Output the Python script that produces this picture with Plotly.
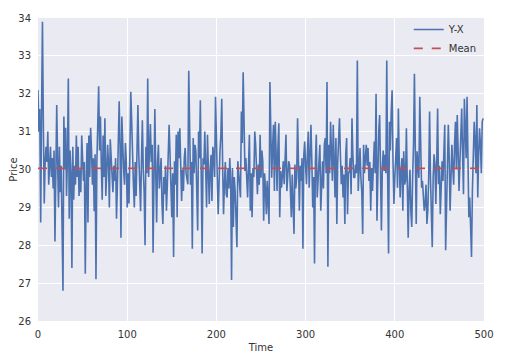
import numpy as np
import plotly.graph_objects as go

# Spread series values (Y-X), t = 0..499
seg_a = [32.1, 31.0, 31.6, 28.6, 31.5, 33.9, 31.2, 29.1, 30.2, 30.6, 30.2, 31.0, 29.6, 30.4, 30.6, 29.8,
         30.3, 29.5, 30.5, 28.1, 29.5, 31.7, 30.2, 29.0, 30.6, 29.4, 30.1, 28.2, 26.8, 31.4, 30.0, 31.1,
         29.3, 30.3, 32.4, 28.7, 30.5, 29.9, 27.4, 30.6, 29.2, 30.1, 29.6, 30.9, 29.8, 30.6, 29.3, 30.0,
         29.4, 30.9, 30.4, 29.7, 30.2, 27.25, 29.5, 30.7, 28.6, 30.9, 29.8, 31.1, 30.5, 29.6, 30.3, 28.9,
         30.4, 27.1, 30.2]
seg_b = [31.0, 32.2, 30.5, 31.4, 30.1, 29.2, 30.9, 29.8, 31.35, 29.3, 29.9, 30.65, 30.2, 29.0, 30.8, 30.3,
         30.0, 29.4, 30.1, 29.7, 30.3, 28.7, 29.6, 30.4, 31.8, 30.6, 28.2, 31.4, 30.5, 30.0, 29.6, 30.7,
         30.2, 29.0, 29.9, 29.1, 30.4, 32.05, 31.3, 30.0, 29.6, 29.0, 30.2, 29.3, 30.5, 31.7, 30.4, 29.8,
         28.9, 30.2, 31.3, 30.0, 29.4, 28.0, 30.6, 29.9, 32.4, 29.8, 30.6, 31.2, 30.2, 30.65, 27.8, 30.0,
         31.6, 29.9, 28.6]
seg_c = [30.2, 30.65, 29.5, 29.87, 30.3, 29.09, 28.56, 29.8, 29.35, 30.1, 28.91, 29.6, 30.48, 31.18, 30.4,
         29.78, 28.74, 29.9, 27.69, 30.22, 29.6, 30.92, 28.74, 31.0, 30.3, 31.09, 30.1, 29.17, 30.0, 29.43,
         30.3, 30.57, 29.9, 29.78, 29.61, 32.61, 30.65, 29.6, 30.2, 27.91, 30.83, 29.9, 30.65, 30.48, 29.4,
         28.39, 31.0, 30.3, 31.83, 29.96, 27.78, 30.3, 30.13, 31.0, 30.2, 29.0, 30.92, 30.1, 29.09, 30.0,
         30.39, 29.17, 30.6, 30.39, 29.8, 31.92]
seg_d = [30.4, 29.78, 28.82, 29.9, 30.48, 30.9, 31.87, 30.1, 28.82, 29.61, 30.2, 29.35, 29.26, 30.04, 29.5,
         30.3, 29.7, 27.08, 30.04, 28.48, 29.8, 29.43, 28.7, 27.95, 30.22, 29.78, 29.4, 29.26, 31.53, 30.7,
         32.57, 30.39, 29.96, 30.3, 29.6, 29.26, 30.1, 30.92, 28.91, 29.9, 28.74, 30.04, 29.8, 31.0, 30.65,
         29.8, 29.35, 30.13, 29.6, 30.92, 29.78, 30.5, 30.22, 28.65, 29.9, 29.52, 28.82, 29.7, 29.2, 28.56,
         32.31, 30.3, 29.78, 30.6, 31.18, 29.43, 31.26]
seg_e = [30.39, 29.43, 30.6, 31.22, 28.74, 29.96, 29.52, 30.1, 30.22, 29.61, 30.5, 30.92, 29.43, 30.0,
         30.22, 30.13, 29.6, 28.74, 29.87, 29.2, 28.3, 30.13, 29.5, 29.78, 31.35, 30.2, 28.91, 30.1, 29.7,
         30.3, 27.91, 30.39, 30.74, 30.1, 29.61, 30.4, 31.0, 29.52, 30.3, 31.18, 30.22, 29.0, 29.8, 27.52,
         30.2, 30.92, 29.26, 29.78, 30.3, 30.65, 28.91, 29.9, 30.22, 29.5, 30.65, 30.83, 29.9, 32.31, 27.43,
         30.65, 29.9, 31.26, 30.5, 29.7, 31.18, 30.4, 29.26, 30.83]
seg_f = [28.56, 30.2, 30.83, 31.35, 30.4, 29.61, 30.1, 29.26, 29.87, 28.56, 30.4, 30.83, 28.82, 29.9,
         29.96, 30.3, 29.35, 31.35, 30.39, 29.8, 29.78, 30.13, 29.9, 32.88, 29.43, 30.2, 30.57, 29.78, 29.4,
         28.3, 30.65, 29.9, 30.48, 30.65, 30.1, 30.57, 29.7, 30.2, 28.91, 30.04, 29.43, 30.5, 30.74, 29.9,
         32.0, 28.65, 30.3, 31.0, 31.44, 29.6, 28.39, 30.04, 30.5, 29.96, 30.39, 29.9, 32.88, 29.78, 27.78,
         31.26, 30.5, 31.53, 32.09, 30.2, 29.09, 29.78, 30.4, 30.83]
seg_g = [29.52, 31.61, 30.2, 29.26, 29.96, 30.3, 28.91, 30.48, 29.6, 29.7, 31.09, 29.9, 28.2, 29.43, 30.0,
         28.91, 28.48, 29.8, 30.65, 32.53, 29.6, 28.56, 30.48, 29.9, 29.78, 31.92, 30.2, 29.52, 29.7, 29.3,
         28.91, 29.09, 29.6, 28.56, 28.91, 29.8, 31.53, 29.78, 29.1, 27.95, 29.78, 30.4, 30.13, 29.09, 30.2,
         31.61, 29.61, 30.1, 28.82, 29.35, 30.22, 29.7, 30.5, 31.18, 27.87, 29.26, 30.2, 31.18, 30.3, 28.91,
         29.8, 30.65, 30.04, 29.6, 30.65, 31.26]
seg_h = [30.0, 31.44, 30.48, 29.43, 30.2, 31.0, 31.61, 30.4, 29.35, 31.87, 31.09, 30.3, 31.92, 29.8, 28.74,
         29.26, 28.5, 27.69, 29.43, 30.6, 31.26, 30.74, 29.9, 31.7, 29.26, 30.4, 31.09, 30.65, 29.9, 31.26,
         31.35]

spread = seg_a + seg_b + seg_c + seg_d + seg_e + seg_f + seg_g + seg_h
time = list(range(len(spread)))
mean_value = float(np.mean(spread))

x_ticks = [0, 100, 200, 300, 400, 500]
y_ticks = [26, 27, 28, 29, 30, 31, 32, 33, 34]

FONT = "DejaVu Sans"
TXT = "#333333"

fig = go.Figure()
fig.add_trace(go.Scatter(x=time, y=spread, mode="lines", name="Y-X",
                         line=dict(color="#4C72B0", width=1.6)))
fig.add_trace(go.Scatter(x=[0, 500], y=[mean_value, mean_value], mode="lines", name="Mean",
                         line=dict(color="#C44E52", width=1.8, dash="dash")))

# page body has an 8px margin, so the figure is sized 8px smaller each way
fig.update_layout(
    width=512, height=356,
    margin=dict(l=30, r=36, t=7, b=43),
    paper_bgcolor="white", plot_bgcolor="#EAEAF2",
    font=dict(family=FONT, size=10, color=TXT),
    showlegend=True,
    legend=dict(x=0.995, y=1.01, xanchor="right", yanchor="top",
                bgcolor="rgba(0,0,0,0)", font=dict(size=10, color=TXT),
                itemwidth=30, tracegroupgap=0),
    xaxis=dict(range=[0, 500], tickvals=x_ticks, showgrid=True, gridcolor="white", gridwidth=1,
               zeroline=False, showline=False, ticks="", ticklabelstandoff=6, automargin=False,
               title=dict(text="Time", standoff=4, font=dict(size=10, color=TXT))),
    yaxis=dict(range=[26, 34], tickvals=y_ticks, showgrid=True, gridcolor="white", gridwidth=1,
               zeroline=False, showline=False, ticks="", ticklabelstandoff=6, automargin=False,
               title=dict(text="Price", standoff=10, font=dict(size=10, color=TXT))),
)

fig.write_html("out.html")
